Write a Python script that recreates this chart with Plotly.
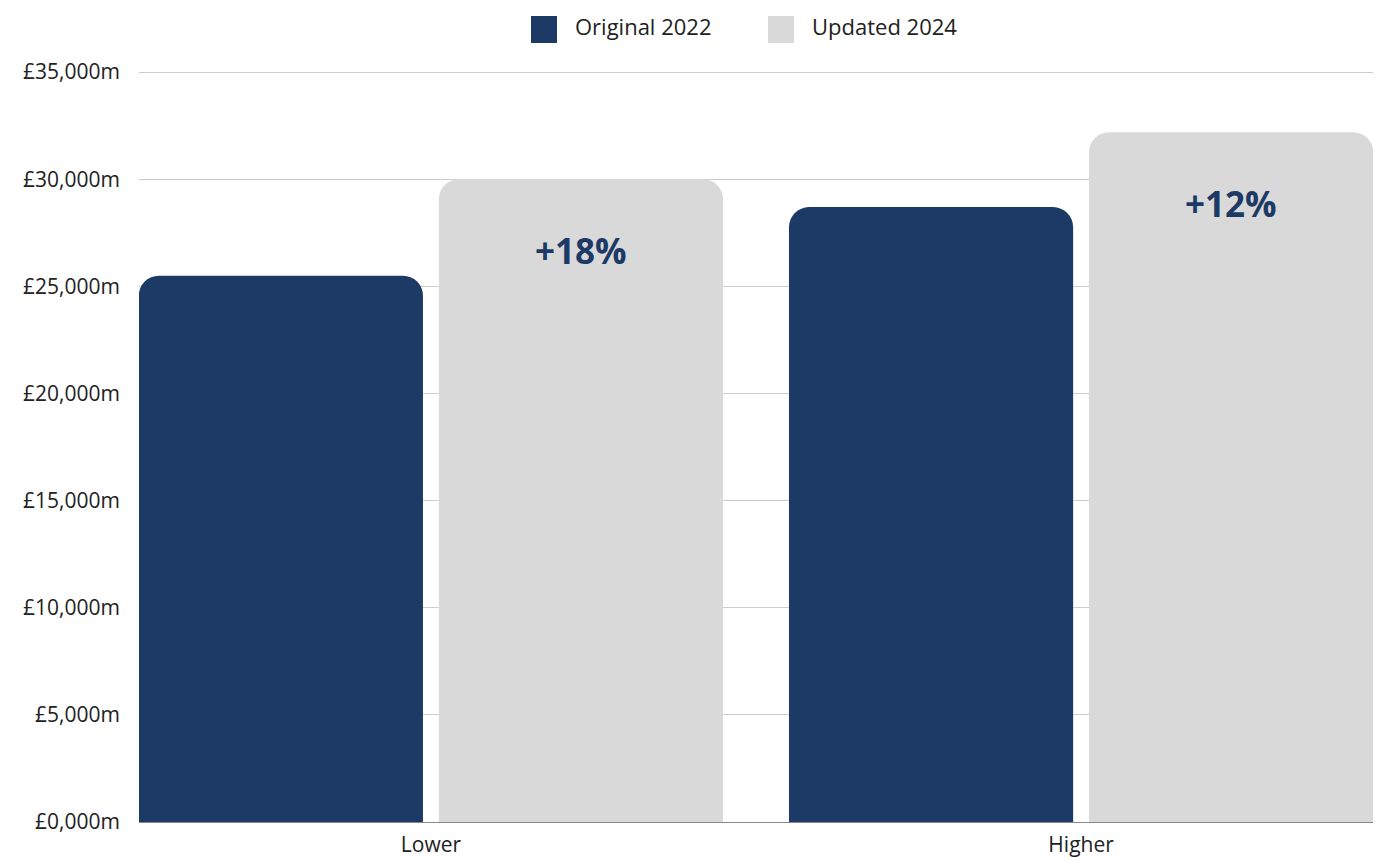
import plotly.graph_objects as go

# Scenario categories and the two estimate vintages (in £m)
categories = ["Lower", "Higher"]
original_2022 = [25500, 28700]
updated_2024 = [30000, 32200]

# Y-axis ticks
tick_vals = [0, 5000, 10000, 15000, 20000, 25000, 30000, 35000]
tick_text = ["£0,000m", "£5,000m", "£10,000m", "£15,000m",
             "£20,000m", "£25,000m", "£30,000m", "£35,000m"]

NAVY = "#1D3A66"
LIGHT = "#D9D9D9"
FONT = "'Open Sans', 'Noto Sans', sans-serif"

BARGAP = 0.077
BARGROUPGAP = 0.053

W, H = 1376, 858
M_L, M_R, M_T, M_B = 139, 3, 70, 36
PLOT_W = W - M_L - M_R
PLOT_H = H - M_T - M_B

fig = go.Figure()
fig.add_trace(go.Bar(x=categories, y=original_2022, name="Original 2022",
                     marker=dict(color=NAVY, line=dict(width=0)),
                     showlegend=False))
fig.add_trace(go.Bar(x=categories, y=updated_2024, name="Updated 2024",
                     marker=dict(color=LIGHT, line=dict(width=0)),
                     showlegend=False))

# Percentage change labels inside the updated bars
slot = (1 - BARGAP) / 2
for i, (o, u) in enumerate(zip(original_2022, updated_2024)):
    pct = round((u / o - 1) * 100)
    fig.add_annotation(x=i + slot / 2, y=u, xref="x", yref="y",
                       text=f"<b>+{pct}%</b>", showarrow=False,
                       yanchor="middle", yshift=-71,
                       font=dict(family=FONT, size=35, color=NAVY))

# Legend drawn as swatches + labels along the top
legend_items = [("Original 2022", NAVY, 531), ("Updated 2024", LIGHT, 768)]


def py(pix):
    return (H - M_B - pix) / PLOT_H


def px_(pix):
    return (pix - M_L) / PLOT_W


for label, color, px in legend_items:
    fig.add_shape(type="rect", xref="paper", yref="paper",
                  x0=px_(px), x1=px_(px + 26), y0=py(43), y1=py(16),
                  fillcolor=color, line=dict(width=0))
    fig.add_annotation(xref="paper", yref="paper",
                       x=px_(px + 42), y=py(26.5),
                       xanchor="left", yanchor="middle", showarrow=False,
                       text=label, font=dict(family=FONT, size=22, color="#222222"))

fig.update_layout(
    width=W, height=H,
    barmode="group", bargap=BARGAP, bargroupgap=BARGROUPGAP,
    barcornerradius=20,
    plot_bgcolor="white", paper_bgcolor="white",
    margin=dict(l=M_L, r=M_R, t=M_T, b=M_B),
    font=dict(family=FONT, size=21, color="#222222"),
    xaxis=dict(range=[-0.449, 1.449], showgrid=False, showline=True,
               linecolor="#888888", linewidth=1, layer="below traces",
               ticks="", tickfont=dict(size=21, color="#222222"),
               ticklabelstandoff=4, automargin=False),
    yaxis=dict(range=[0, 35100], tickvals=tick_vals, ticktext=tick_text,
               showgrid=True, gridcolor="#CCCCCC", gridwidth=1,
               zeroline=False, showline=False, ticks="",
               ticklabelstandoff=18, layer="below traces", automargin=False,
               tickfont=dict(size=21, color="#222222")),
)

fig.write_html("out.html")
